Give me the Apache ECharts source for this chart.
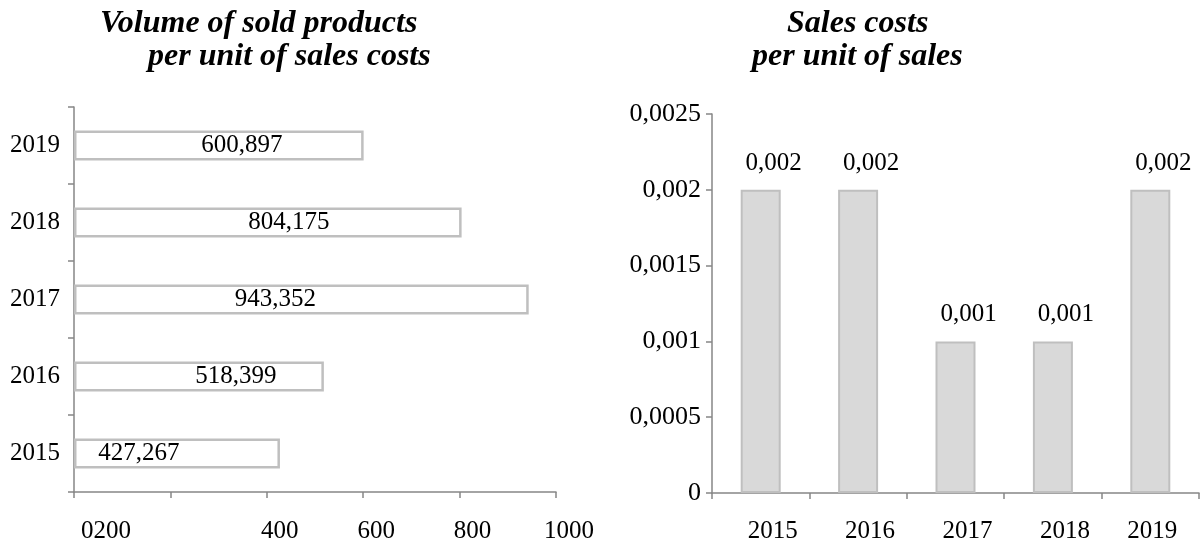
<!DOCTYPE html>
<html>
<head>
<meta charset="utf-8">
<script src="https://cdn.jsdelivr.net/npm/echarts@6/dist/echarts.min.js"></script>
<style>
  html, body { margin: 0; padding: 0; background: #fff; }
  #main { width: 1202px; height: 546px; }
</style>
</head>
<body>
<div id="main"></div>
<script>
// data
var years = ['2015', '2016', '2017', '2018', '2019'];
var volumePerCost = [427.267, 518.399, 943.352, 804.175, 600.897];
var costPerSale = [0.002, 0.002, 0.001, 0.001, 0.002];
var volumeTicks = { 0: '0200', 200: '', 400: '400', 600: '600', 800: '800', 1000: '1000' };

// labels in the left chart were dragged by hand in the original
var volumeLabelShift = [-38, 37, -26, 21, 23];

var FONT = 'Liberation Serif';
var AXIS = '#868686';

function comma(v) {
	return String(v).replace('.', ',');
}

var chart = echarts.init(document.getElementById('main'));

var option = {
	animation: false,
	textStyle: { fontFamily: FONT },
	title: [
		{ text: 'Volume of sold products', left: 100, top: 8 },
		{ text: 'per unit of sales costs', left: 148, top: 41 },
		{ text: 'Sales costs', left: 787, top: 8 },
		{ text: 'per unit of sales', left: 752, top: 41 }
	].map(function (t) {
		t.padding = 0;
		t.textStyle = { fontFamily: FONT, fontSize: 32, fontWeight: 'bold', fontStyle: 'italic', color: '#000' };
		return t;
	}),
	grid: [
		{ left: 74, top: 107, width: 482, height: 385 },
		{ left: 712, top: 114, width: 487, height: 379 }
	],
	xAxis: [
		{
			gridIndex: 0,
			type: 'value',
			min: 0,
			max: 1000,
			interval: 200,
			splitLine: { show: false },
			axisLine: { show: true, lineStyle: { color: AXIS, width: 1.5 } },
			axisTick: { show: true, length: 6, lineStyle: { color: AXIS, width: 1.5 } },
			axisLabel: {
				margin: 27,
				color: '#000',
				fontFamily: FONT,
				fontSize: 25,
				formatter: function (v) {
					var s = volumeTicks[v];
					if (!s) return '';
					return v === 0 ? '{z|' + s + '}' : '{n|' + s + '}';
				},
				rich: {
					n: { fontFamily: FONT, fontSize: 25, color: '#000', padding: [0, 0, 0, 26] },
					z: { fontFamily: FONT, fontSize: 25, color: '#000', padding: [0, 0, 0, 64] }
				}
			}
		},
		{
			gridIndex: 1,
			type: 'category',
			data: years,
			axisLine: { show: true, lineStyle: { color: AXIS, width: 1.5 } },
			axisTick: { show: true, length: 6, alignWithLabel: false, lineStyle: { color: AXIS, width: 1.5 } },
			axisLabel: {
				interval: 0,
				hideOverlap: false,
				margin: 26,
				color: '#000',
				fontFamily: FONT,
				fontSize: 25,
				formatter: function (v, i) {
					return i < 4 ? '{n|' + v + '}' : '{m|' + v + '}';
				},
				rich: {
					n: { fontFamily: FONT, fontSize: 25, color: '#000', padding: [0, 0, 0, 24] },
					m: { fontFamily: FONT, fontSize: 25, color: '#000', padding: [0, 0, 0, 4] }
				}
			}
		}
	],
	yAxis: [
		{
			gridIndex: 0,
			type: 'category',
			data: years,
			axisLine: { show: true, lineStyle: { color: AXIS, width: 1.5 } },
			axisTick: { show: true, length: 6, alignWithLabel: false, lineStyle: { color: AXIS, width: 1.5 } },
			axisLabel: { interval: 0, margin: 14, color: '#000', fontFamily: FONT, fontSize: 25 }
		},
		{
			gridIndex: 1,
			type: 'value',
			min: 0,
			max: 0.0025,
			interval: 0.0005,
			splitLine: { show: false },
			axisLine: { show: true, lineStyle: { color: AXIS, width: 1.5 } },
			axisTick: { show: true, length: 6, lineStyle: { color: AXIS, width: 1.5 } },
			axisLabel: {
				margin: 11,
				color: '#000',
				fontFamily: FONT,
				fontSize: 26,
				formatter: function (v) { return comma(+v.toFixed(4)); }
			}
		}
	],
	series: [
		{
			type: 'bar',
			xAxisIndex: 0,
			yAxisIndex: 0,
			barWidth: 30,
			itemStyle: { color: '#fff', borderColor: '#bfbfbf', borderWidth: 2.5 },
			label: {
				show: true,
				position: 'inside',
				color: '#000',
				fontFamily: FONT,
				fontSize: 25,
				formatter: function (p) { return comma(p.value); }
			},
			data: volumePerCost.map(function (v, i) {
				return { value: v, label: { offset: [volumeLabelShift[i], 0] } };
			})
		},
		{
			type: 'bar',
			xAxisIndex: 1,
			yAxisIndex: 1,
			barWidth: 40,
			itemStyle: { color: '#d9d9d9', borderColor: '#bfbfbf', borderWidth: 2 },
			label: {
				show: true,
				position: 'top',
				distance: 14,
				offset: [13, 0],
				color: '#000',
				fontFamily: FONT,
				fontSize: 25,
				formatter: function (p) { return comma(p.value); }
			},
			data: costPerSale
		}
	]
};

chart.setOption(option);
</script>
</body>
</html>
